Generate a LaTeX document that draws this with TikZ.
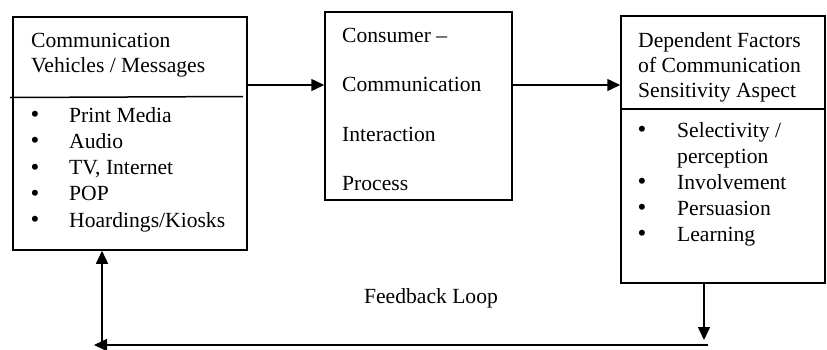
\documentclass[tikz,border=0pt]{standalone}
\usepackage{fontspec}
\setmainfont{Liberation Serif}
\usetikzlibrary{arrows.meta}
\begin{document}
\begin{tikzpicture}[x=1pt,y=-1pt,
  box/.style={draw,line width=1.5pt,inner sep=0,minimum width=#1},
  txt/.style={anchor=base west,inner sep=0,font=\fontsize{21.6}{26}\selectfont},
  bul/.style={anchor=base,inner sep=0,font=\fontsize{25}{26}\selectfont},
  arr/.style={line width=1.5pt,-{Triangle[length=13pt,width=12pt]}},
  ln/.style={line width=1.5pt}]
\useasboundingbox (0,0) rectangle (827,349);
% boxes
\node[box=234pt,minimum height=233pt] (lbox) at (130,133.5) {};
\node[box=187pt,minimum height=188pt] (mbox) at (418.5,106) {};
\node[box=204pt,minimum height=267pt] (rbox) at (723,149.5) {};
% dividers
\coordinate (ld1) at (10,97.5);
\coordinate (ld2) at (243,96.5);
\draw[ln] (ld1) -- (ld2);
\draw[ln] (rbox.west |- 0,109) -- (rbox.east |- 0,109);
% left box text
\node[txt] (l1) at (31,47) {Communication};
\node[txt] (l2) at (31,72) {Vehicles / Messages};
\foreach \t [count=\i] in {Print Media,Audio,{TV, Internet},POP,Hoardings/Kiosks}{
  \node[bul] (lb\i) at (35,{96.5+26.2*\i}) {•};
  \node[txt] (li\i) at (69,{96+26.2*\i}) {\t};
}
% middle box text
\node[txt] (m1) at (342,42) {Consumer –};
\node[txt] (m2) at (342,91) {Communication};
\node[txt] (m3) at (342,141) {Interaction};
\node[txt] (m4) at (342,190) {Process};
% right box text
\node[txt] (r1) at (638,47) {Dependent Factors};
\node[txt] (r2) at (638,72) {of Communication};
\node[txt] (r3) at (638,97) {Sensitivity Aspect};
\node[bul] (rb1) at (642,137.5) {•};
\node[txt] (ri1) at (677,137) {Selectivity /};
\node[txt] (ri1b) at (677,163) {perception};
\node[bul] (rb2) at (642,189.5) {•};
\node[txt] (ri2) at (677,189) {Involvement};
\node[bul] (rb3) at (642,215.5) {•};
\node[txt] (ri3) at (677,215) {Persuasion};
\node[bul] (rb4) at (642,241.5) {•};
\node[txt] (ri4) at (677,241) {Learning};
% feedback label
\node[anchor=base,inner sep=0,font=\fontsize{21.6}{26}\selectfont] (fb) at (431,303) {Feedback Loop};
% connectors
\draw[arr] (lbox.east |- 0,85) -- (mbox.west |- 0,85);
\draw[arr] (mbox.east |- 0,85) -- (rbox.west |- 0,85);
\coordinate (dtip) at (704,340);
\draw[arr] (rbox.south -| 704,0) -- (dtip);
\coordinate (bR) at (708,345);
\coordinate (bL) at (94,345);
\draw[arr] (bR) -- (bL);
\coordinate (vB) at (102,345);
\draw[arr] (vB) -- (lbox.south -| 102,0);
\end{tikzpicture}
\end{document}
